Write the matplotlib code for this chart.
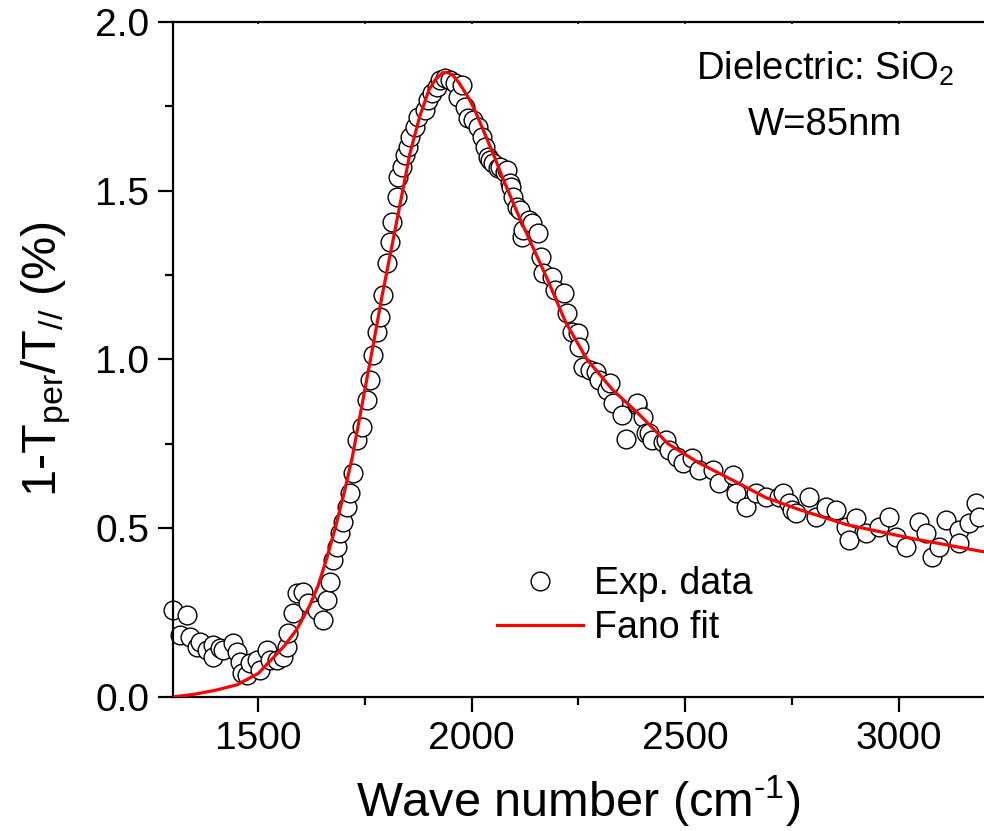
import matplotlib
matplotlib.use("Agg")
import matplotlib.pyplot as plt
from matplotlib.ticker import MultipleLocator

plt.rcParams['font.family'] = ['Liberation Sans', 'DejaVu Sans']
plt.rcParams['mathtext.fontset'] = 'custom'
plt.rcParams['mathtext.rm'] = 'Liberation Sans'
plt.rcParams['mathtext.it'] = 'Liberation Sans:italic'

# experimental points (wave number, 1-Tper/T//)
exp_x = [1300, 1316, 1333, 1340, 1356, 1363, 1380, 1394, 1394, 1410,
         1417, 1440, 1450, 1457, 1461, 1473, 1480, 1496, 1504, 1520,
         1527, 1543, 1557, 1567, 1569, 1581, 1590, 1604, 1616, 1637,
         1651, 1660, 1667, 1674, 1684, 1691, 1698, 1707, 1714, 1721,
         1731, 1742, 1754, 1761, 1768, 1777, 1784, 1791, 1801, 1808,
         1812, 1824, 1827, 1836, 1843, 1850, 1855, 1866, 1873, 1890,
         1897, 1906, 1918, 1925, 1937, 1948, 1960, 1967, 1976, 1983,
         1990, 2002, 2014, 2023, 2030, 2037, 2042, 2049, 2061, 2065,
         2077, 2082, 2089, 2093, 2096, 2105, 2112, 2117, 2119, 2135,
         2142, 2154, 2163, 2166, 2187, 2194, 2217, 2224, 2234, 2248,
         2252, 2260, 2276, 2292, 2299, 2316, 2323, 2330, 2353, 2362,
         2386, 2388, 2400, 2409, 2416, 2423, 2447, 2456, 2463, 2480,
         2494, 2517, 2533, 2564, 2580, 2611, 2620, 2643, 2667, 2690,
         2720, 2728, 2744, 2751, 2760, 2791, 2807, 2830, 2854, 2877,
         2884, 2900, 2924, 2955, 2978, 2994, 3018, 3048, 3065, 3079,
         3095, 3111, 3142, 3142, 3165, 3182, 3189]
exp_y = [0.258, 0.184, 0.243, 0.178, 0.148, 0.163, 0.139, 0.154, 0.119, 0.145,
         0.139, 0.160, 0.133, 0.104, 0.071, 0.065, 0.100, 0.110, 0.080, 0.140,
         0.110, 0.110, 0.119, 0.148, 0.190, 0.249, 0.308, 0.311, 0.278, 0.258,
         0.228, 0.287, 0.341, 0.406, 0.444, 0.486, 0.519, 0.563, 0.604, 0.664,
         0.761, 0.800, 0.880, 0.939, 1.013, 1.081, 1.126, 1.191, 1.286, 1.348,
         1.407, 1.481, 1.541, 1.570, 1.606, 1.630, 1.659, 1.689, 1.719, 1.739,
         1.769, 1.790, 1.807, 1.828, 1.834, 1.828, 1.819, 1.778, 1.813, 1.748,
         1.716, 1.710, 1.689, 1.659, 1.630, 1.600, 1.591, 1.582, 1.567, 1.570,
         1.556, 1.561, 1.523, 1.511, 1.481, 1.452, 1.443, 1.363, 1.384, 1.413,
         1.404, 1.375, 1.304, 1.256, 1.244, 1.206, 1.197, 1.138, 1.081, 1.078,
         1.037, 0.978, 0.969, 0.963, 0.939, 0.910, 0.930, 0.871, 0.835, 0.765,
         0.865, 0.871, 0.830, 0.782, 0.782, 0.761, 0.756, 0.761, 0.732, 0.711,
         0.693, 0.708, 0.673, 0.673, 0.634, 0.658, 0.604, 0.563, 0.604, 0.593,
         0.593, 0.604, 0.575, 0.554, 0.545, 0.593, 0.533, 0.563, 0.554, 0.504,
         0.465, 0.530, 0.486, 0.504, 0.533, 0.474, 0.444, 0.519, 0.486, 0.415,
         0.444, 0.524, 0.495, 0.456, 0.516, 0.575, 0.533]

# Fano fit curve
fit_x = [1300, 1350, 1400, 1450, 1500, 1530, 1560, 1590, 1620, 1640,
         1660, 1680, 1700, 1720, 1745, 1770, 1790, 1815, 1835, 1855,
         1878, 1900, 1915, 1932, 1945, 1955, 1970, 1980, 1995, 2010,
         2030, 2050, 2075, 2105, 2135, 2175, 2220, 2270, 2330, 2390,
         2460, 2530, 2610, 2690, 2770, 2880, 3030, 3200]
fit_y = [0.0, 0.008, 0.020, 0.036, 0.070, 0.110, 0.150, 0.200, 0.270, 0.330,
         0.410, 0.500, 0.600, 0.710, 0.880, 1.050, 1.190, 1.350, 1.480, 1.610,
         1.720, 1.800, 1.830, 1.850, 1.850, 1.843, 1.820, 1.800, 1.770, 1.730,
         1.670, 1.610, 1.530, 1.440, 1.355, 1.244, 1.110, 1.000, 0.910, 0.840,
         0.750, 0.695, 0.643, 0.590, 0.554, 0.510, 0.470, 0.430]

fig = plt.figure(figsize=(9.84, 8.31), dpi=100)
ax = fig.add_axes([0.1758, 0.1613, 0.8242, 0.8122])

ax.plot(exp_x, exp_y, 'o', ms=13.5, mfc='white', mec='black', mew=1.0,
        label='Exp. data', clip_on=False, zorder=2)
ax.plot(fit_x, fit_y, '-', color='red', lw=2.3, label='Fano fit', zorder=3)

ax.set_xlim(1300, 3200)
ax.set_ylim(0, 2.0)
ax.xaxis.set_major_locator(MultipleLocator(500))
ax.xaxis.set_minor_locator(MultipleLocator(250))
ax.yaxis.set_major_locator(MultipleLocator(0.5))
ax.yaxis.set_minor_locator(MultipleLocator(0.25))
ax.yaxis.set_major_formatter(plt.FormatStrFormatter('%.1f'))

for s in ax.spines.values():
    s.set_linewidth(1.6)
ax.spines['right'].set_visible(False)

ax.tick_params(which='major', direction='out', length=11, width=1.6,
               labelsize=28, pad=6)
ax.tick_params(which='minor', direction='out', length=5.5, width=1.6)
# tiny inward ticks on the top edge
ax2 = ax.secondary_xaxis('top')
ax2.xaxis.set_major_locator(MultipleLocator(250))
ax2.tick_params(direction='in', length=1.5, width=1.2, labeltop=False)
ax2.spines['top'].set_visible(False)

ax.set_xlabel('Wave number (cm$^{\\mathregular{\u20101}}$)', fontsize=35, labelpad=12)
ax.set_ylabel('1-T$_{\\mathregular{per}}$/T$_{\\mathregular{//}}$ (%)', fontsize=35, labelpad=16)

ax.text(0.804, 0.93, 'Dielectric: SiO$_{\\mathregular{2}}$', transform=ax.transAxes,
        ha='center', va='center', fontsize=27.5)
ax.text(0.804, 0.847, 'W=85nm', transform=ax.transAxes,
        ha='center', va='center', fontsize=27.5)

ax.legend(loc='upper left', bbox_to_anchor=(0.381, 0.216), frameon=False,
          fontsize=27, handlelength=2.3, handletextpad=0.3, labelspacing=0.2,
          borderpad=0.4, borderaxespad=0)

fig.savefig('out.png', dpi=100)
